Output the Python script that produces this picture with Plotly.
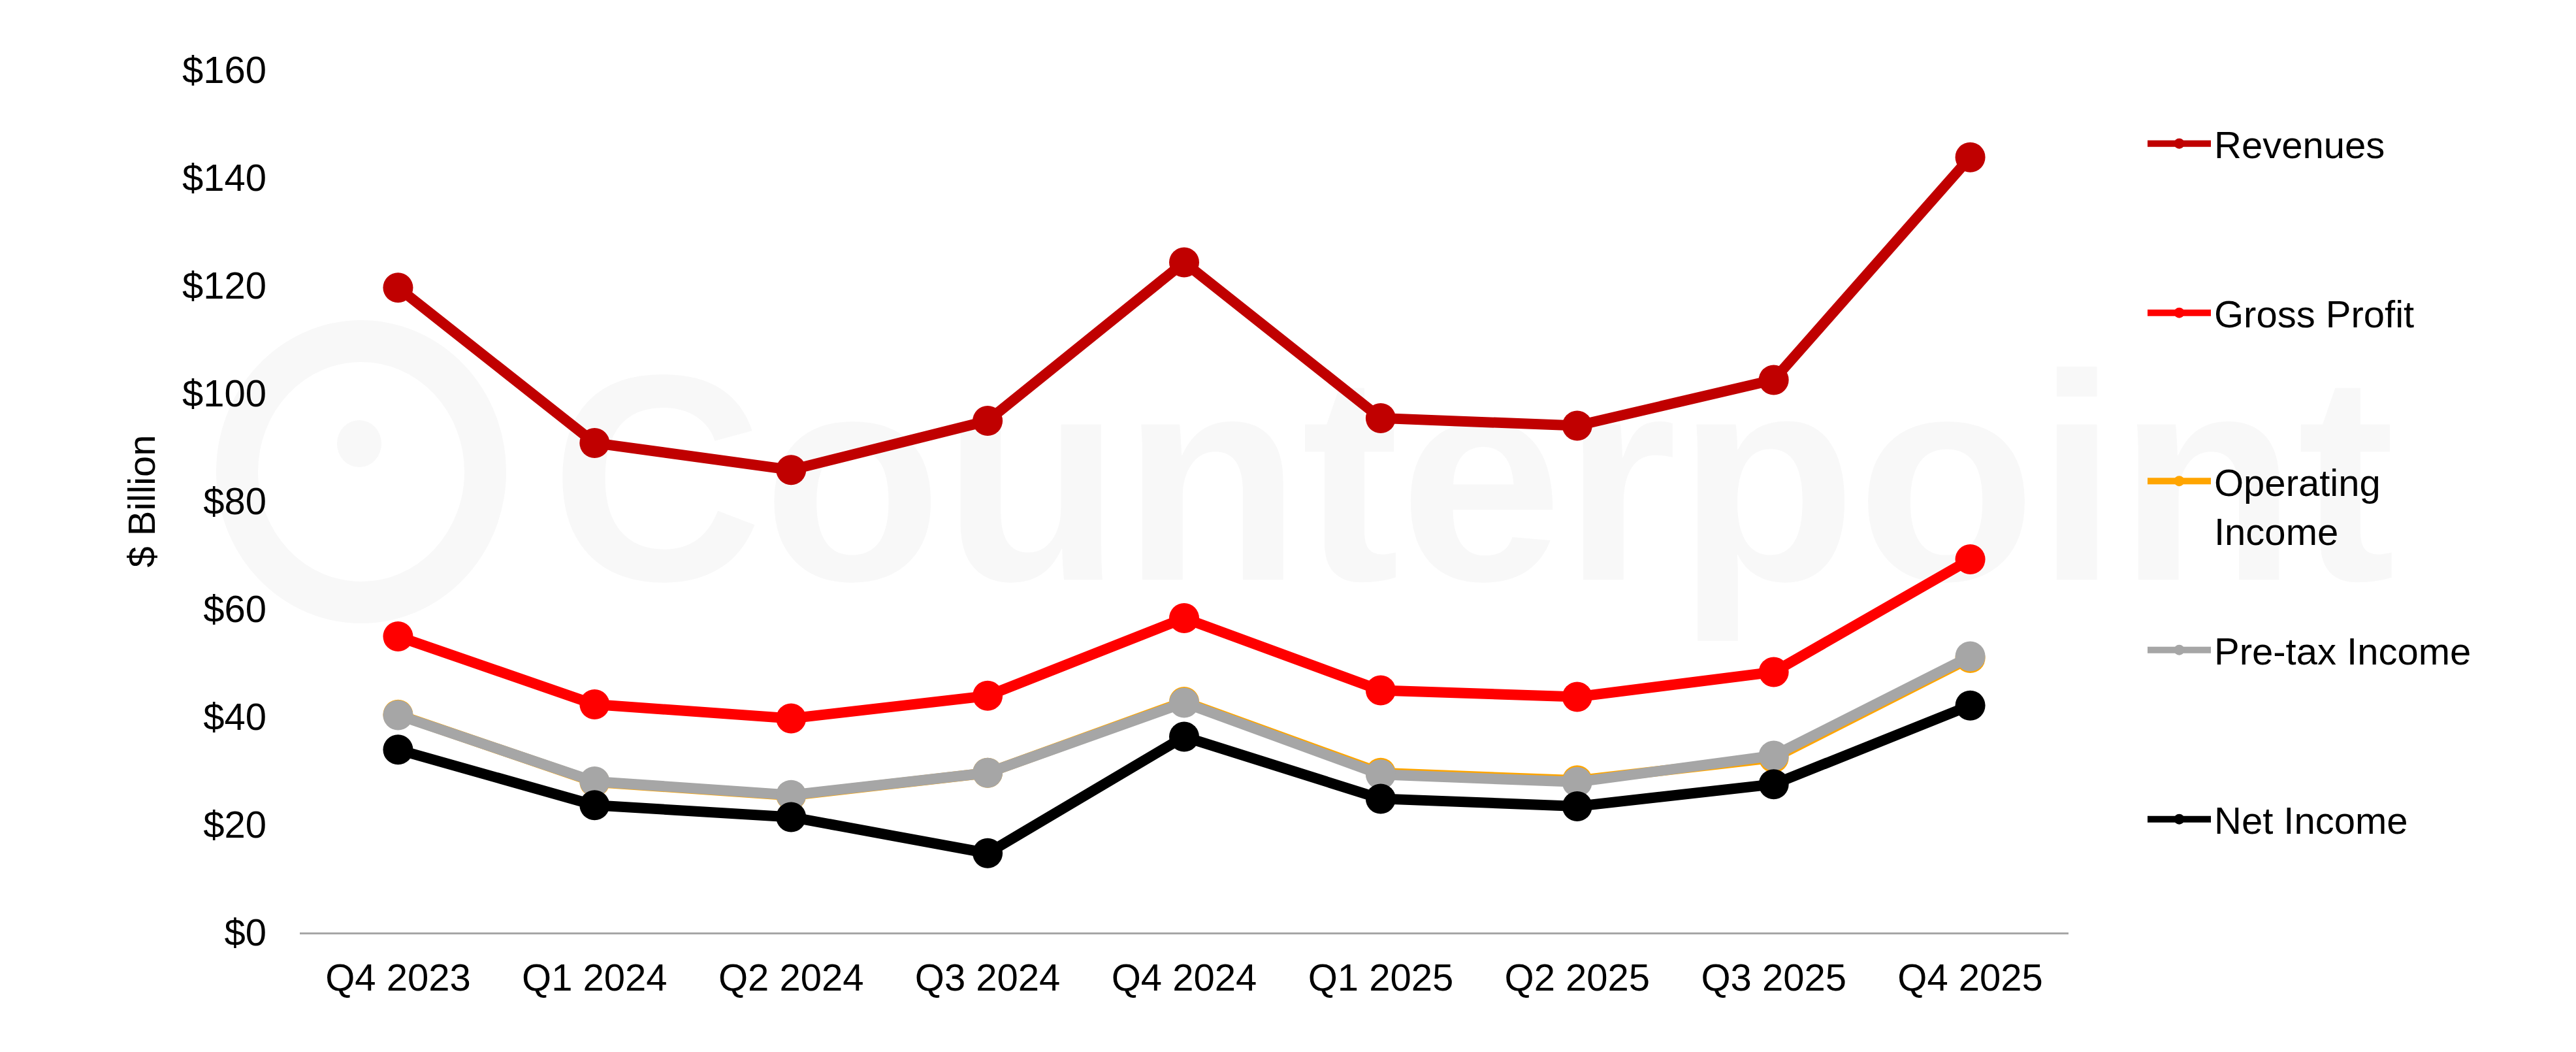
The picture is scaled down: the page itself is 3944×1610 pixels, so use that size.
import plotly.graph_objects as go

quarters = ["Q4 2023", "Q1 2024", "Q2 2024", "Q3 2024", "Q4 2024",
            "Q1 2025", "Q2 2025", "Q3 2025", "Q4 2025"]
revenues = [119.6, 90.8, 85.8, 94.9, 124.3, 95.4, 94.0, 102.5, 143.8]
gross_profit = [54.9, 42.3, 39.7, 43.9, 58.3, 44.9, 43.7, 48.3, 69.2]
operating_income = [40.4, 27.9, 25.4, 29.6, 42.8, 29.6, 28.2, 32.4, 50.9]
pretax_income = [40.3, 28.0, 25.5, 29.6, 42.6, 29.3, 27.9, 32.8, 51.2]
net_income = [33.9, 23.6, 21.4, 14.7, 36.3, 24.8, 23.4, 27.5, 42.1]

series_names = ["Revenues", "Gross Profit", "Operating<br>Income", "Pre-tax Income", "Net Income"]
series_values = [revenues, gross_profit, operating_income, pretax_income, net_income]
series_colors = ["#C00000", "#FF0000", "#FFA500", "#A6A6A6", "#000000"]

W, H = 3944, 1610
L, R, T, B = 459, 3167, 107, 1427  # plot area in pixels


def px_x(X):
    return (X - L) / (R - L)


def px_y(Y):
    return (B - Y) / (B - T)


FONT = "Liberation Sans, Arial, sans-serif"
fig = go.Figure()

legend_ys = [220, 479, 738, 995, 1254]
legend_names = ["legend", "legend2", "legend3", "legend4", "legend5"]
for name, vals, col, lg in zip(series_names, series_values, series_colors, legend_names):
    fig.add_trace(go.Scatter(
        x=quarters, y=vals, name=name, mode="lines+markers",
        line=dict(color=col, width=16),
        marker=dict(color=col, size=46),
        legend=lg, cliponaxis=False,
    ))

ITEMW = 97
layout_legends = {}
for lg, ly in zip(legend_names, legend_ys):
    layout_legends[lg] = dict(
        x=px_x(3392 - 42 - (ITEMW - 30)), y=px_y(ly), xanchor="left",
        yanchor="top" if lg == "legend3" else "middle",
        valign="top",
        font=dict(family=FONT, size=58, color="#000000"),
        bgcolor="rgba(0,0,0,0)", borderwidth=0,
        itemwidth=ITEMW,
    )
# two-line legend: anchor top so the first line lines up
layout_legends["legend3"]["y"] = px_y(738 - 46)

# watermark
wm_color = "#F8F8F8"
shapes = [
    dict(type="rect", xref="paper", yref="paper",
         x0=px_x(850), x1=px_x(3660), y0=px_y(860), y1=px_y(520),
         line=dict(width=0), fillcolor="rgba(0,0,0,0)", layer="below",
         label=dict(text="Counterpoint",
                    font=dict(family=FONT, size=450, color=wm_color, weight=700),
                    textposition="middle center")),
    dict(type="circle", xref="paper", yref="paper",
         x0=px_x(553 - 190), x1=px_x(553 + 190), y0=px_y(722 + 200), y1=px_y(722 - 200),
         line=dict(width=64, color=wm_color), fillcolor="rgba(0,0,0,0)", layer="below"),
    dict(type="circle", xref="paper", yref="paper",
         x0=px_x(550 - 34), x1=px_x(550 + 34), y0=px_y(679 + 36), y1=px_y(679 - 36),
         line=dict(width=0), fillcolor=wm_color, layer="below"),
]

fig.update_layout(
    width=W, height=H, autosize=False,
    margin=dict(l=L, r=W - R, t=T, b=H - B, pad=0),
    paper_bgcolor="white", plot_bgcolor="white",
    font=dict(family=FONT, size=58, color="#000000"),
    showlegend=True,
    shapes=shapes,
    xaxis=dict(type="category", range=[-0.5, 8.5], showgrid=False, zeroline=False,
               showline=True, linecolor="#A6A6A6", linewidth=3, ticks="",
               tickfont=dict(family=FONT, size=58, color="#000000"),
               ticklabelstandoff=16, fixedrange=True),
    yaxis=dict(range=[0, 160], dtick=20, tick0=0, showgrid=False, zeroline=False,
               showline=False, ticks="", tickprefix="$",
               tickfont=dict(family=FONT, size=58, color="#000000"),
               ticklabelstandoff=50,
               title=dict(text="$ Billion", font=dict(family=FONT, size=58, color="#000000"),
                          standoff=22),
               fixedrange=True),
    **layout_legends,
)

fig.write_html("out.html", post_script="document.body.style.margin='0';",
               config=dict(displayModeBar=False))
